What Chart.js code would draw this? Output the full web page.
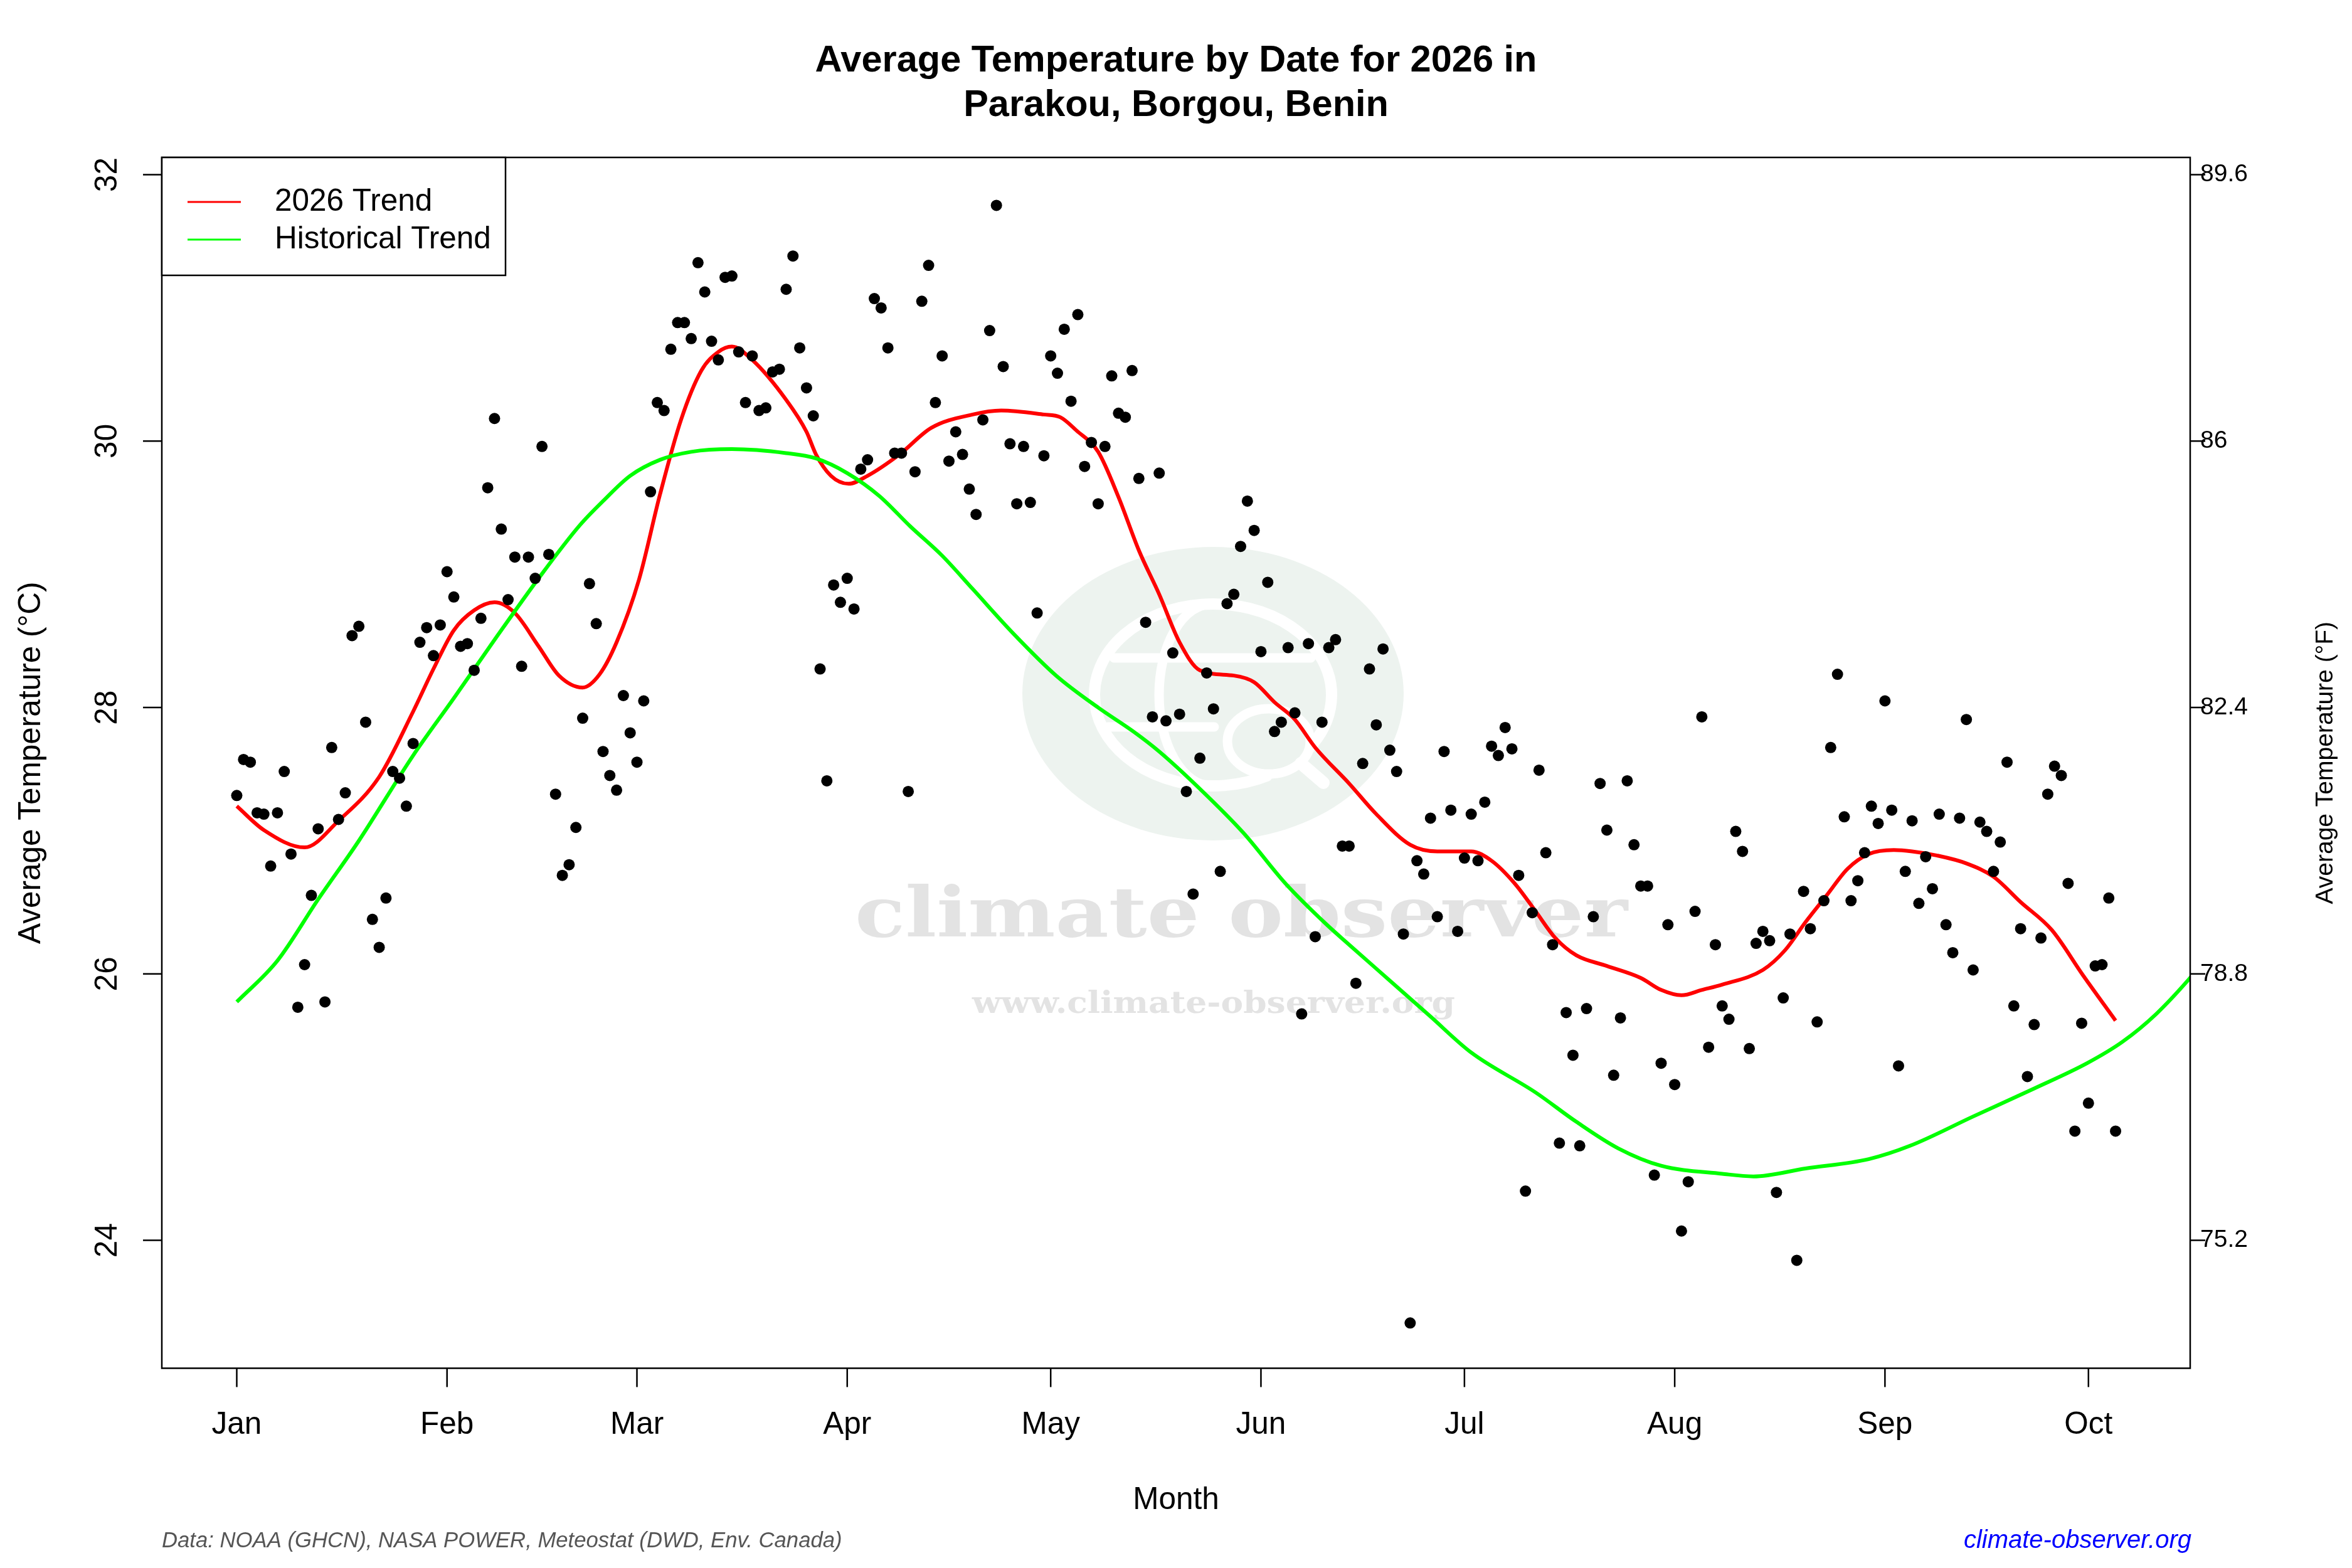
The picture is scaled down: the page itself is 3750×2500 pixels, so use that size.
<!DOCTYPE html>
<html>
<head>
<meta charset="utf-8">
<title>Average Temperature by Date for 2026 in Parakou, Borgou, Benin</title>
<script src="https://cdn.jsdelivr.net/npm/chart.js@4.4.1/dist/chart.umd.min.js"></script>
<style>
  html, body { margin: 0; padding: 0; background: #fff; }
  #wrap { width: 3750px; height: 2500px; }
</style>
</head>
<body>
<div id="wrap"><canvas id="chart" width="3750" height="2500"></canvas></div>
<script>
// daily average temperature (°C), 2026, index 0 = Jan 1
const dailyTemps = [
  27.34, 27.61, 27.59, 27.21, 27.20, 26.81, 27.21, 27.52, 26.90, 25.75,
  26.07, 26.59, 27.09, 25.79, 27.70, 27.16, 27.36, 28.54, 28.61, 27.89,
  26.41, 26.20, 26.57, 27.52, 27.47, 27.26, 27.73, 28.49, 28.60, 28.39,
  28.62, 29.02, 28.83, 28.46, 28.48, 28.28, 28.67, 29.65, 30.17, 29.34,
  28.81, 29.13, 28.31, 29.13, 28.97, 29.96, 29.15, 27.35, 26.74, 26.82,
  27.10, 27.92, 28.93, 28.63, 27.67, 27.49, 27.38, 28.09, 27.81, 27.59,
  28.05, 29.62, 30.29, 30.23, 30.69, 30.89, 30.89, 30.77, 31.34, 31.12,
  30.75, 30.61, 31.23, 31.24, 30.67, 30.29, 30.64, 30.23, 30.25, 30.52,
  30.54, 31.14, 31.39, 30.70, 30.40, 30.19, 28.29, 27.45, 28.92, 28.79,
  28.97, 28.74, 29.79, 29.86, 31.07, 31.00, 30.70, 29.91, 29.91, 27.37,
  29.77, 31.05, 31.32, 30.29, 30.64, 29.85, 30.07, 29.90, 29.64, 29.45,
  30.16, 30.83, 31.77, 30.56, 29.98, 29.53, 29.96, 29.54, 28.71, 29.89,
  30.64, 30.51, 30.84, 30.30, 30.95, 29.81, 29.99, 29.53, 29.96, 30.49,
  30.21, 30.18, 30.53, 29.72, 28.64, 27.93, 29.76, 27.90, 28.41, 27.95,
  27.37, 26.60, 27.62, 28.26, 27.99, 26.77, 28.78, 28.85, 29.21, 29.55,
  29.33, 28.42, 28.94, 27.82, 27.89, 28.45, 27.96, 25.70, 28.48, 26.28,
  27.89, 28.45, 28.51, 26.96, 26.96, 25.93, 27.58, 28.29, 27.87, 28.44,
  27.68, 27.52, 26.30, 23.38, 26.85, 26.75, 27.17, 26.43, 27.67, 27.23,
  26.32, 26.87, 27.20, 26.85, 27.29, 27.71, 27.64, 27.85, 27.69, 26.74,
  24.37, 26.46, 27.53, 26.91, 26.22, 24.73, 25.71, 25.39, 24.71, 25.74,
  26.43, 27.43, 27.08, 25.24, 25.67, 27.45, 26.97, 26.66, 26.66, 24.49,
  25.33, 26.37, 25.17, 24.07, 24.44, 26.47, 27.93, 25.45, 26.22, 25.76,
  25.66, 27.07, 26.92, 25.44, 26.23, 26.32, 26.25, 24.36, 25.82, 26.30,
  23.85, 26.62, 26.34, 25.64, 26.55, 27.70, 28.25, 27.18, 26.55, 26.70,
  26.91, 27.26, 27.13, 28.05, 27.23, 25.31, 26.77, 27.15, 26.53, 26.88,
  26.64, 27.20, 26.37, 26.16, 27.17, 27.91, 26.03, 27.14, 27.07, 26.77,
  26.99, 27.59, 25.76, 26.34, 25.23, 25.62, 26.27, 27.35, 27.56, 27.49,
  26.68, 24.82, 25.63, 25.03, 26.06, 26.07, 26.57, 24.82
];

// 2026 smoothed trend (day of year, °C)
const trendDays  = [0, 4, 10, 15, 21, 26, 29, 32, 35, 38, 41, 44.5, 47.5, 51, 53.5, 56, 59.3, 62.4, 65.5, 68.5,
  71, 73, 76, 81, 84, 85.4, 87.6, 90.2, 93, 97.7, 102.4, 108.5, 112.7, 119, 121.4, 123.8, 127, 130, 133, 136,
  139, 142, 147, 150, 153, 156, 159, 164, 168, 173, 177, 182, 185, 188.4, 191.5, 194.4, 197.5, 202, 207, 210,
  213, 216, 219, 225, 228.3, 231.3, 234.4, 237.5, 240.6, 244.3, 247, 250.6, 255, 259, 263, 267.6, 272.2, 277];
const trendTemps = [27.26, 27.08, 26.95, 27.15, 27.48, 27.97, 28.29, 28.58, 28.73, 28.79, 28.71, 28.46, 28.24, 28.15, 28.25, 28.49, 28.96, 29.60, 30.16, 30.53,
  30.67, 30.71, 30.61, 30.31, 30.07, 29.90, 29.74, 29.68, 29.74, 29.90, 30.10, 30.20, 30.23, 30.20, 30.18, 30.08, 29.92, 29.58, 29.18, 28.85,
  28.49, 28.28, 28.24, 28.19, 28.04, 27.91, 27.70, 27.43, 27.20, 26.97, 26.92, 26.92, 26.85, 26.68, 26.47, 26.27, 26.14, 26.06, 25.97, 25.88,
  25.84, 25.88, 25.92, 26.03, 26.18, 26.39, 26.59, 26.79, 26.90, 26.93, 26.92, 26.89, 26.83, 26.73, 26.54, 26.33, 25.99, 25.65];

// historical trend (day of year, °C)
const histDays  = [0, 6, 12, 18, 26, 32, 38.3, 44.5, 50.6, 54, 58, 62.4, 67, 73, 81, 85.4, 90, 94.7, 99.3, 104,
  108.5, 114.6, 120.8, 127, 132.2, 136, 142.2, 148.4, 154.6, 160.7, 164, 170, 176, 182, 191.5, 197.5, 203.7, 210, 219, 223.6,
  231.3, 240.6, 246.7, 256, 265, 272.8, 278, 283, 288.5, 292];
const histTemps = [25.79, 26.10, 26.56, 27.00, 27.64, 28.07, 28.53, 28.97, 29.37, 29.55, 29.74, 29.86, 29.92, 29.94, 29.91, 29.87, 29.76, 29.59, 29.36, 29.14,
  28.89, 28.55, 28.24, 28.00, 27.82, 27.67, 27.38, 27.06, 26.68, 26.37, 26.22, 25.95, 25.68, 25.41, 25.11, 24.89, 24.69, 24.56, 24.50, 24.48,
  24.54, 24.61, 24.71, 24.93, 25.14, 25.33, 25.49, 25.70, 26.00, 26.22];

const monthStarts = [0, 31, 59, 90, 120, 151, 181, 212, 243, 273];
const monthLabels = ['Jan', 'Feb', 'Mar', 'Apr', 'May', 'Jun', 'Jul', 'Aug', 'Sep', 'Oct'];
const celsiusTicks = [24, 26, 28, 30, 32];
const fahrenheitTicks = ['75.2', '78.8', '82.4', '86', '89.6'];

const titleLines = ['Average Temperature by Date for 2026 in', 'Parakou, Borgou, Benin'];
const legendNames = ['2026 Trend', 'Historical Trend'];
const legendColors = ['#ff0000', '#00ff00'];

const FONT = '"Liberation Sans", Arial, Helvetica, sans-serif';
const xMin = -11.05, xMax = 288.0;
const yMin = 23.04, yMax = 32.13;
const toF = c => c * 9 / 5 + 32;

// plot region in canvas pixels
const AREA = { left: 258, top: 251, right: 3492, bottom: 2181.5 };

function text(ctx, str, x, y, font, color, align, base, rot) {
  ctx.save();
  ctx.font = font;
  ctx.fillStyle = color || '#000';
  ctx.textAlign = align || 'center';
  ctx.textBaseline = base || 'middle';
  ctx.translate(x, y);
  if (rot) ctx.rotate(rot);
  ctx.fillText(str, 0, 0);
  ctx.restore();
}

function fitText(ctx, str, cx, y, width, font, color) {
  ctx.save();
  ctx.font = font;
  const w = ctx.measureText(str).width;
  ctx.fillStyle = color;
  ctx.textAlign = 'center';
  ctx.textBaseline = 'alphabetic';
  ctx.translate(cx, y);
  ctx.scale(width / w, 1);
  ctx.fillText(str, 0, 0);
  ctx.restore();
}

function drawWatermark(ctx) {
  ctx.save();
  ctx.fillStyle = '#edf3ef';
  ctx.beginPath();
  ctx.ellipse(1934, 1106, 304, 234, 0, 0, Math.PI * 2);
  ctx.fill();

  ctx.strokeStyle = '#ffffff';
  ctx.lineCap = 'round';
  // globe
  ctx.lineWidth = 18;
  ctx.beginPath();
  ctx.ellipse(1934, 1108, 189, 145, 0, Math.PI * 0.35, Math.PI * 2.2);
  ctx.stroke();
  ctx.lineWidth = 15;
  ctx.beginPath();
  ctx.ellipse(1932, 1108, 84, 145, 0, Math.PI * 0.5, Math.PI * 1.5);
  ctx.stroke();
  ctx.beginPath();
  ctx.moveTo(1776, 1049); ctx.lineTo(2090, 1049);
  ctx.moveTo(1766, 1159); ctx.lineTo(1936, 1159);
  ctx.stroke();
  // magnifier
  ctx.fillStyle = '#edf3ef';
  ctx.lineWidth = 15;
  ctx.beginPath();
  ctx.ellipse(2023, 1182, 66, 52, 0, 0, Math.PI * 2);
  ctx.fill();
  ctx.stroke();
  ctx.lineWidth = 20;
  ctx.beginPath();
  ctx.moveTo(2074, 1217); ctx.lineTo(2110, 1248);
  ctx.stroke();

  fitText(ctx, 'climate observer', 1979, 1493, 1232, 'bold 110px "DejaVu Serif", serif', '#e3e3e3');
  fitText(ctx, 'www.climate-observer.org', 1935, 1615, 770, 'bold 48px "DejaVu Serif", serif', '#e3e3e3');
  ctx.restore();
}

const framePlugin = {
  id: 'frame',
  beforeDraw(chart) {
    const ctx = chart.ctx;
    ctx.save();
    ctx.fillStyle = '#ffffff';
    ctx.fillRect(0, 0, chart.width, chart.height);
    ctx.restore();
  },
  beforeDatasetsDraw(chart) {
    drawWatermark(chart.ctx);
  },
  afterDatasetsDraw(chart) {
    const ctx = chart.ctx;
    const a = chart.chartArea;
    const sx = chart.scales.x, sy = chart.scales.y, sf = chart.scales.yF;

    ctx.save();
    ctx.strokeStyle = '#000';
    ctx.lineWidth = 2.5;
    ctx.strokeRect(a.left, a.top, a.right - a.left, a.bottom - a.top);

    // bottom axis
    ctx.beginPath();
    monthStarts.forEach(d => {
      const px = sx.getPixelForValue(d);
      ctx.moveTo(px, a.bottom); ctx.lineTo(px, a.bottom + 30);
    });
    // left axis
    celsiusTicks.forEach(v => {
      const py = sy.getPixelForValue(v);
      ctx.moveTo(a.left, py); ctx.lineTo(a.left - 30, py);
    });
    // right axis
    fahrenheitTicks.forEach(v => {
      const py = sf.getPixelForValue(parseFloat(v));
      ctx.moveTo(a.right, py); ctx.lineTo(a.right + 24, py);
    });
    ctx.stroke();
    ctx.restore();

    monthStarts.forEach((d, i) => {
      text(ctx, monthLabels[i], sx.getPixelForValue(d), 2272, '49.5px ' + FONT);
    });
    celsiusTicks.forEach(v => {
      text(ctx, String(v), 172, sy.getPixelForValue(v), '49.5px ' + FONT, '#000', 'center', 'middle', -Math.PI / 2);
    });
    fahrenheitTicks.forEach(v => {
      text(ctx, v, 3508, sf.getPixelForValue(parseFloat(v)), '39px ' + FONT, '#000', 'left', 'middle');
    });

    // titles
    text(ctx, titleLines[0], (a.left + a.right) / 2, 98, 'bold 59.5px ' + FONT);
    text(ctx, titleLines[1], (a.left + a.right) / 2, 169, 'bold 59.5px ' + FONT);
    text(ctx, 'Month', (a.left + a.right) / 2, 2392, '49.5px ' + FONT);
    text(ctx, 'Average Temperature (°C)', 50, (a.top + a.bottom) / 2, '49.5px ' + FONT, '#000', 'center', 'middle', -Math.PI / 2);
    text(ctx, 'Average Temperature (°F)', 3708, (a.top + a.bottom) / 2, '39px ' + FONT, '#000', 'center', 'middle', -Math.PI / 2);

    // legend
    ctx.save();
    ctx.fillStyle = '#fff';
    ctx.fillRect(a.left, a.top, 548, 188);
    ctx.strokeStyle = '#000';
    ctx.lineWidth = 2.5;
    ctx.strokeRect(a.left, a.top, 548, 188);
    legendNames.forEach((name, i) => {
      const ly = 322 + i * 60;
      ctx.strokeStyle = legendColors[i];
      ctx.lineWidth = 3;
      ctx.beginPath();
      ctx.moveTo(299, ly); ctx.lineTo(384, ly);
      ctx.stroke();
      text(ctx, name, 438, ly, '49.5px ' + FONT, '#000', 'left', 'middle');
    });
    ctx.restore();

    // footer
    text(ctx, 'Data: NOAA (GHCN), NASA POWER, Meteostat (DWD, Env. Canada)', 258, 2457, 'italic 34.7px ' + FONT, '#555555', 'left', 'middle');
    text(ctx, 'climate-observer.org', 3494, 2457, 'italic 40px ' + FONT, '#0000ff', 'right', 'middle');
  }
};

const ctx = document.getElementById('chart').getContext('2d');
new Chart(ctx, {
  type: 'scatter',
  data: {
    datasets: [
      {
        label: 'Daily',
        data: dailyTemps.map((v, i) => ({ x: i, y: v })),
        backgroundColor: '#000',
        borderColor: '#000',
        pointRadius: 9,
        pointHoverRadius: 9,
        borderWidth: 0,
        order: 0
      },
      {
        label: legendNames[0],
        type: 'line',
        data: trendDays.map((d, i) => ({ x: d, y: trendTemps[i] })),
        borderColor: legendColors[0],
        borderWidth: 6,
        pointRadius: 0,
        cubicInterpolationMode: 'monotone',
        fill: false,
        clip: 0,
        order: 2
      },
      {
        label: legendNames[1],
        type: 'line',
        data: histDays.map((d, i) => ({ x: d, y: histTemps[i] })),
        borderColor: legendColors[1],
        borderWidth: 6,
        pointRadius: 0,
        cubicInterpolationMode: 'monotone',
        fill: false,
        clip: 0,
        order: 1
      }
    ]
  },
  options: {
    responsive: false,
    animation: false,
    devicePixelRatio: 1,
    events: [],
    layout: { autoPadding: false, padding: { top: AREA.top, left: 0, right: 0, bottom: 0 } },
    plugins: { legend: { display: false }, tooltip: { enabled: false }, title: { display: false } },
    scales: {
      x: {
        type: 'linear', position: 'bottom', min: xMin, max: xMax,
        grid: { display: false }, border: { display: false }, ticks: { display: false },
        afterFit: s => { s.height = 2500 - AREA.bottom; }
      },
      y: {
        type: 'linear', position: 'left', min: yMin, max: yMax,
        grid: { display: false }, border: { display: false }, ticks: { display: false },
        afterFit: s => { s.width = AREA.left; }
      },
      yF: {
        type: 'linear', position: 'right', min: toF(yMin), max: toF(yMax),
        grid: { display: false }, border: { display: false }, ticks: { display: false },
        afterFit: s => { s.width = 3750 - AREA.right; }
      }
    }
  },
  plugins: [framePlugin]
});
</script>
</body>
</html>
